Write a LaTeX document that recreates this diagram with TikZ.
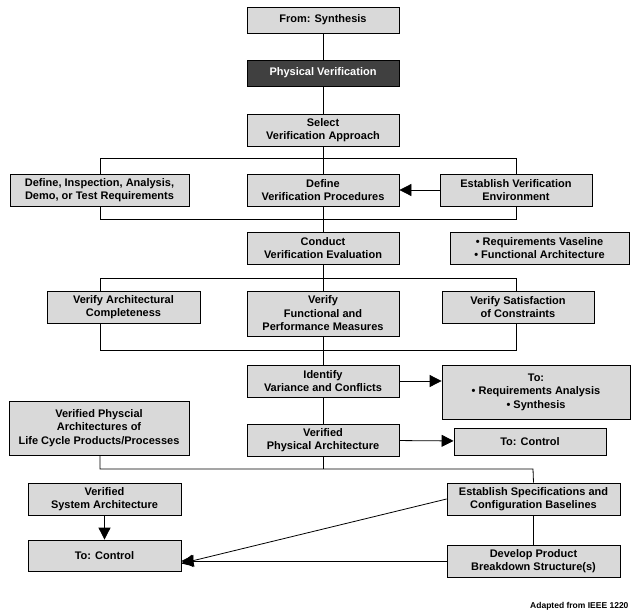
\documentclass[tikz,border=0pt]{standalone}
\usepackage{fontspec}
\setmainfont{Liberation Sans}
\usetikzlibrary{arrows.meta}
\begin{document}
\begin{tikzpicture}[x=1pt,y=-1pt,
  box/.style={draw=black,fill=black!15,line width=0.8pt,font=\bfseries\fontsize{11}{13.5}\selectfont,align=center,inner sep=0pt},
  ln/.style={line width=0.8pt},
  arr/.style={line width=0.8pt,-{Triangle[length=12pt,width=12pt]}}]
\useasboundingbox (0,0) rectangle (642,615);
\node[box,minimum width=152,minimum height=26] (syn) at (323,20) {From: Synthesis};
\node[box,fill=black!75,text=white,minimum width=152,minimum height=26] (pv) at (323,73) {Physical Verification};
\node[box,minimum width=152,minimum height=32] (sel) at (323,130) {Select\\Verification Approach};
\node[box,minimum width=179,minimum height=32] (dit) at (99.5,190) {Define, Inspection, Analysis,\\Demo, or Test Requirements};
\node[box,minimum width=152,minimum height=32] (dvp) at (323,190) {Define\\Verification Procedures};
\node[box,minimum width=152,minimum height=32] (eve) at (516,190) {Establish Verification\\Environment};
\node[box,minimum width=152,minimum height=32] (cve) at (323,248) {Conduct\\Verification Evaluation};
\node[box,minimum width=179,minimum height=32] (rv) at (539.5,248) {• Requirements Vaseline\\• Functional Architecture};
\node[box,minimum width=153,minimum height=32] (vac) at (123.5,307) {Verify Architectural\\Completeness};
\node[box,minimum width=152,minimum height=45] (vfp) at (323,313.5) {Verify\\Functional and\\Performance Measures};
\node[box,minimum width=152,minimum height=32] (vsc) at (518,307) {Verify Satisfaction\\of Constraints};
\node[box,minimum width=152,minimum height=32] (ivc) at (323,381) {Identify\\Variance and Conflicts};
\node[box,minimum width=188,minimum height=54] (tra) at (536,392) {To:\\• Requirements Analysis\\• Synthesis};
\node[box,minimum width=180,minimum height=54] (vpl) at (99,428) {Verified Physcial\\Architectures of\\Life Cycle Products/Processes};
\node[box,minimum width=152,minimum height=32] (vpa) at (323,440) {Verified\\Physical Architecture};
\node[box,minimum width=152,minimum height=27] (tc1) at (530,441.5) {To: Control};
\node[box,minimum width=153,minimum height=32] (vsa) at (104.5,499) {Verified\\System Architecture};
\node[box,minimum width=173,minimum height=32] (esc) at (533.5,499) {Establish Specifications and\\Configuration Baselines};
\node[box,minimum width=153,minimum height=31] (tc2) at (104.5,555.5) {To: Control};
\node[box,minimum width=173,minimum height=32] (dpb) at (533.5,561) {Develop Product\\Breakdown Structure(s)};
\node[font=\bfseries\fontsize{8.5}{10}\selectfont,anchor=east] (src) at (632,606) {Adapted from IEEE 1220};
% spine
\draw[ln] (syn) -- (pv); \draw[ln] (pv) -- (sel); \draw[ln] (sel) -- (dvp);
\draw[ln] (dvp) -- (cve); \draw[ln] (cve) -- (vfp); \draw[ln] (vfp) -- (ivc); \draw[ln] (ivc) -- (vpa);
% first bracket
\coordinate (a1) at (100,158); \coordinate (a2) at (516,158);
\coordinate (b1) at (100,219); \coordinate (b2) at (516,219);
\draw[ln] (dit.north -| a1) |- (a2) -- (eve.north -| a2);
\draw[ln] (dit.south -| b1) |- (b2) -- (eve.south -| b2);
\draw[arr] (eve) -- (dvp);
% second bracket
\coordinate (c1) at (100,278); \coordinate (c2) at (516,278);
\coordinate (d1) at (100,350); \coordinate (d2) at (516,350);
\draw[ln] (vac.north -| c1) |- (c2) -- (vsc.north -| c2);
\draw[ln] (vac.south -| d1) |- (d2) -- (vsc.south -| d2);
\draw[arr] (ivc.east) -- (ivc.east -| tra.west);
\draw[arr] (vpa) -- (tc1);
% bottom
\coordinate (e1) at (100,469); \coordinate (e2) at (533,469);
\draw[ln] (vpl.south -| e1) |- (e2) -- (esc.north);
\draw[ln] (vpa) -- (vpa.south |- e1);
\draw[ln] (esc) -- (dpb);
\draw[arr] (esc.west) -- ([yshift=-8pt]tc2.east);
\draw[arr] (vsa) -- (tc2);
\draw[arr] (dpb.west) -- (dpb.west -| tc2.east);
\end{tikzpicture}
\end{document}
